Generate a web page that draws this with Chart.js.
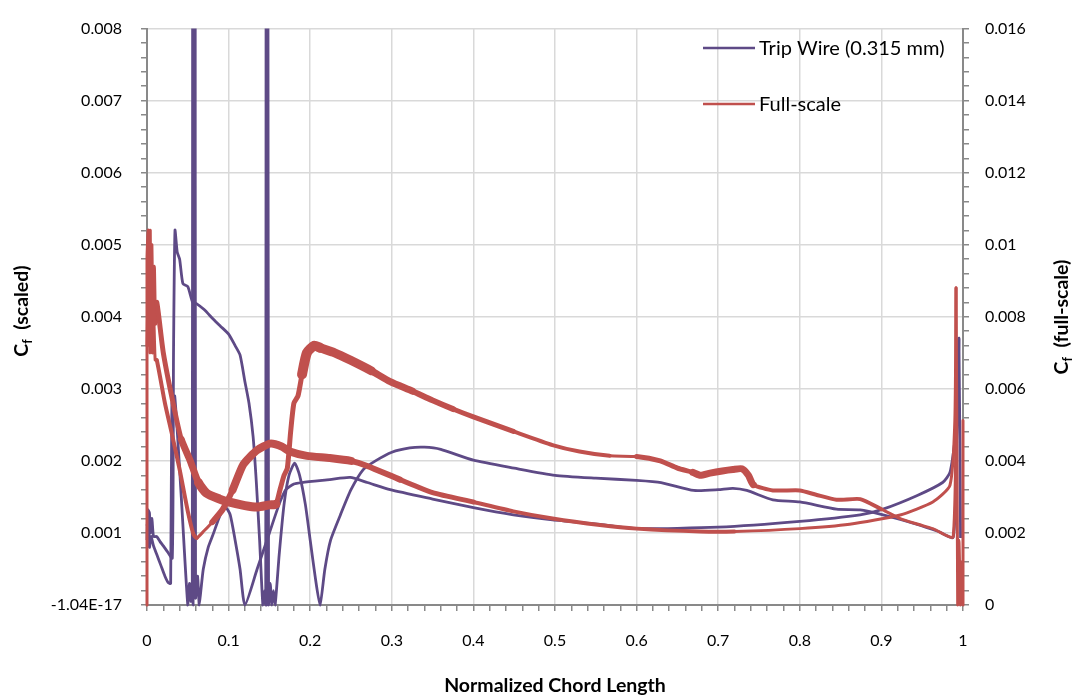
<!DOCTYPE html>
<html>
<head>
<meta charset="utf-8">
<script src="https://cdn.jsdelivr.net/npm/chart.js@4.4.1/dist/chart.umd.min.js"></script>
<style>
html,body{margin:0;padding:0;background:#fff;}
#wrap{position:relative;width:1075px;height:697px;}
</style>
</head>
<body>
<div id="wrap"><canvas id="c" width="1075" height="697"></canvas></div>
<script>
// ---------------- data ----------------
const seriesNames = ['Trip Wire (0.315 mm)', 'Full-scale'];
const xTitle = 'Normalized Chord Length';
const leftTitle = '(scaled)';
const rightTitle = '(full-scale)';
const xTickLabels = ['0','0.1','0.2','0.3','0.4','0.5','0.6','0.7','0.8','0.9','1'];
const leftTickLabels = ['-1.04E-17','0.001','0.002','0.003','0.004','0.005','0.006','0.007','0.008'];
const rightTickLabels = ['0','0.002','0.004','0.006','0.008','0.01','0.012','0.014','0.016'];

// Trip wire (scaled), left axis: [x, Cf]
const tripUpper = [[0,0.0009],[0.001,0.00132],[0.003,0.00128],[0.004,0.001],[0.006,0.0012],[0.008,0.00095],[0.012,0.00095],[0.016,0.00088],[0.02,0.00082],[0.025,0.00074],[0.031,0.00065],[0.0325,0.0035],[0.0343,0.0052],[0.037,0.0049],[0.04,0.0048],[0.044,0.00446],[0.05,0.00442],[0.056,0.0042],[0.061,0.00418],[0.07,0.0041],[0.081,0.00397],[0.09,0.00387],[0.1,0.00376],[0.108,0.0036],[0.114,0.00347],[0.12,0.0031],[0.125,0.0028],[0.13,0.00234],[0.134,0.0017],[0.138,0.0009],[0.142,0],[0.144,0.0002],[0.1455,0],[0.146,0.012],[0.1465,0],[0.148,0.012],[0.149,0],[0.151,0.0003],[0.153,0],[0.155,0.0002],[0.157,0],[0.162,0.0007],[0.168,0.0014],[0.174,0.0018],[0.181,0.00197],[0.187,0.0018],[0.194,0.0014],[0.2,0.0009],[0.206,0.0004],[0.212,0],[0.218,0.0005],[0.225,0.0009],[0.237,0.00125],[0.25,0.0016],[0.265,0.00188],[0.28,0.002],[0.3,0.00212],[0.322,0.00218],[0.34,0.00219],[0.36,0.00216],[0.4,0.00201],[0.45,0.0019],[0.5,0.0018],[0.55,0.00176],[0.6,0.00173],[0.63,0.0017],[0.67,0.00159],[0.7,0.0016],[0.718,0.00162],[0.735,0.00159],[0.767,0.00146],[0.8,0.00143],[0.845,0.00133],[0.874,0.00132],[0.902,0.00125],[0.944,0.00112],[0.97,0.00102],[0.988,0.00094],[0.992,0.0022],[0.995,0.0037],[0.997,0.00093]];
const tripLower = [[0,0.0011],[0.002,0.0012],[0.003,0.0008],[0.005,0.00095],[0.008,0.00082],[0.012,0.0007],[0.017,0.00055],[0.022,0.0004],[0.026,0.00031],[0.029,0.0003],[0.0305,0.0028],[0.034,0.0029],[0.042,0.0015],[0.05,0],[0.052,0.0003],[0.054,0.00005],[0.0555,0.0002],[0.056,0.012],[0.0565,0],[0.059,0.012],[0.0595,0.0001],[0.062,0.0004],[0.064,0],[0.066,0.0002],[0.069,0.0005],[0.075,0.0008],[0.081,0.00098],[0.088,0.0012],[0.093,0.00133],[0.097,0.00135],[0.102,0.00125],[0.108,0.0009],[0.114,0.0005],[0.12,0],[0.135,0.0005],[0.15,0.001],[0.162,0.0014],[0.17,0.0016],[0.18,0.00168],[0.19,0.0017],[0.224,0.00174],[0.249,0.00177],[0.27,0.0017],[0.298,0.0016],[0.35,0.00147],[0.4,0.00135],[0.449,0.00125],[0.497,0.00118],[0.555,0.00112],[0.6,0.00106],[0.7,0.00108],[0.8,0.00116],[0.874,0.00125],[0.902,0.00133],[0.944,0.00152],[0.975,0.0017],[0.984,0.00184],[0.99,0.00229],[0.994,0.00324],[0.995,0.0037]];

// Full-scale, right axis: [x, Cf]
const fullUpper = [[0,0],[0,0.0096],[0.0015,0.0104],[0.003,0.0076],[0.004,0.0104],[0.005,0.0074],[0.006,0.010],[0.0075,0.0078],[0.009,0.0094],[0.0105,0.0078],[0.012,0.0084],[0.02,0.007],[0.032,0.0056],[0.042,0.0046],[0.053,0.004],[0.063,0.0034],[0.073,0.0031],[0.089,0.00294],[0.1,0.00286],[0.12,0.00276],[0.135,0.00272],[0.15,0.00278],[0.158,0.0028],[0.163,0.0032],[0.168,0.0036],[0.172,0.0038],[0.176,0.0048],[0.18,0.0056],[0.185,0.0058],[0.19,0.0064],[0.196,0.007],[0.205,0.0072],[0.212,0.00714],[0.23,0.007],[0.249,0.0068],[0.275,0.0065],[0.298,0.0062],[0.325,0.00594],[0.35,0.00568],[0.375,0.00544],[0.4,0.00522],[0.449,0.00482],[0.497,0.00444],[0.53,0.00426],[0.567,0.00414],[0.6,0.00412],[0.629,0.004],[0.65,0.0038],[0.669,0.00368],[0.678,0.0036],[0.69,0.00366],[0.705,0.00372],[0.718,0.00376],[0.729,0.00378],[0.737,0.0036],[0.743,0.00334],[0.767,0.00318],[0.8,0.00318],[0.82,0.00306],[0.845,0.00292],[0.874,0.00294],[0.9,0.00266],[0.923,0.0024],[0.945,0.00224],[0.963,0.00212],[0.988,0.0019],[0.9915,0.0088],[0.9935,0],[0.995,0.0018],[0.997,0],[0.9985,0.0012],[1,0],[1,0.00512]];
const fullLower = [[0,0.0072],[0.002,0.0094],[0.0035,0.007],[0.005,0.009],[0.0065,0.007],[0.008,0.0082],[0.01,0.0068],[0.012,0.0068],[0.022,0.0056],[0.03,0.0048],[0.04,0.00376],[0.05,0.0026],[0.057,0.00196],[0.061,0.00186],[0.07,0.00206],[0.08,0.0023],[0.093,0.00266],[0.105,0.0032],[0.118,0.0039],[0.135,0.0043],[0.151,0.00448],[0.165,0.0044],[0.175,0.00426],[0.196,0.00414],[0.224,0.00408],[0.25,0.004],[0.27,0.00386],[0.31,0.00348],[0.35,0.00312],[0.4,0.00286],[0.449,0.0026],[0.497,0.0024],[0.555,0.00222],[0.6,0.00212],[0.678,0.00204],[0.72,0.00204],[0.8,0.00212],[0.861,0.00224],[0.923,0.0025],[0.963,0.00286],[0.984,0.00332],[0.99,0.00512],[0.9915,0.0088]];

// ---------------- style ----------------
const tripColor = '#5e4a86';
const fullColor = '#c0504d';
const gridMajor = '#d9d9d9';
const axisGray = '#898989';
const FONT = 'Lato, "Open Sans", sans-serif';
// line thickness ranges imitating the oscillation band [xFrom, xTo, width]
const fullUpperBands = [[0.012,0.04,5],[0.04,0.06,7],[0.06,0.16,9],[0.16,0.19,5],[0.19,0.22,10],[0.22,0.27,9],[0.27,0.32,7],[0.32,0.38,6],[0.38,0.45,5],[0.45,0.55,4],[0.6,0.66,5],[0.66,0.745,7],[0.745,0.9,4]];
const fullLowerBands = [[0.012,0.06,4],[0.08,0.11,6],[0.11,0.26,8],[0.26,0.32,6],[0.32,0.4,5],[0.4,0.75,4]];

function bandWidth(bands, x, def) {
  for (const b of bands) if (x >= b[0] && x < b[1]) return b[2];
  return def;
}
function pts(arr) { return arr.map(p => ({x: p[0], y: p[1]})); }
function isMajor(v, step) { const r = v / step; return Math.abs(r - Math.round(r)) < 1e-6; }

function lineDs(label, arr, color, axis, bands, def) {
  return {
    label: label, data: pts(arr), yAxisID: axis, showLine: true,
    borderColor: color, backgroundColor: color, borderWidth: def,
    pointRadius: 0, pointHoverRadius: 0, tension: 0.2, fill: false,
    borderJoinStyle: 'round', borderCapStyle: bands ? 'round' : 'butt',
    clip: {left: 3, right: 3, top: 0, bottom: 3},
    segment: bands ? { borderWidth: c => bandWidth(bands, (c.p0.parsed.x + c.p1.parsed.x) / 2, def) } : undefined
  };
}

const overlay = {
  id: 'overlay',
  afterDraw(chart) {
    const ctx = chart.ctx;
    ctx.save();
    // legend
    const legendItems = [[seriesNames[0], tripColor, 48], [seriesNames[1], fullColor, 104]];
    ctx.font = '20px ' + FONT;
    ctx.textBaseline = 'middle';
    ctx.textAlign = 'left';
    for (const it of legendItems) {
      ctx.strokeStyle = it[1]; ctx.lineWidth = 2.5; ctx.lineCap = 'butt';
      ctx.beginPath(); ctx.moveTo(703, it[2]); ctx.lineTo(755, it[2]); ctx.stroke();
      ctx.fillStyle = '#000';
      ctx.fillText(it[0], 759, it[2] + 1);
    }
    // x title
    ctx.font = 'bold 19.5px ' + FONT;
    ctx.textAlign = 'center';
    ctx.textBaseline = 'alphabetic';
    ctx.fillText(xTitle, 555, 692);
    drawCf(ctx, 21, 311, leftTitle);
    drawCf(ctx, 1061, 317, rightTitle);
    ctx.restore();
  }
};
function drawCf(ctx, cx, cy, rest) {
  ctx.save();
  ctx.translate(cx, cy);
  ctx.rotate(-Math.PI / 2);
  ctx.fillStyle = '#000';
  ctx.textAlign = 'left';
  ctx.textBaseline = 'alphabetic';
  const big = 'bold 19.5px ' + FONT, small = 'bold 12.5px ' + FONT;
  ctx.font = big; const wC = ctx.measureText('C').width; const wR = ctx.measureText('  ' + rest).width;
  ctx.font = small; const wf = ctx.measureText('f').width;
  const total = wC + wf + wR;
  let x0 = -total / 2;
  ctx.font = big; ctx.fillText('C', x0, 7);
  ctx.font = small; ctx.fillText('f', x0 + wC, 11);
  ctx.font = big; ctx.fillText('  ' + rest, x0 + wC + wf, 7);
  ctx.restore();
}

const tickFont = {family: FONT, size: 16};

new Chart(document.getElementById('c'), {
  type: 'scatter',
  data: {
    datasets: [
      lineDs(seriesNames[1], fullUpper, fullColor, 'y2', fullUpperBands, 3),
      lineDs(seriesNames[1], fullLower, fullColor, 'y2', fullLowerBands, 3),
      lineDs(seriesNames[0], tripUpper, tripColor, 'y', null, 2.8),
      lineDs(seriesNames[0], tripLower, tripColor, 'y', null, 2.8)
    ]
  },
  options: {
    responsive: false, animation: false, devicePixelRatio: 1,
    layout: {padding: {top: 17, left: 0, right: 0, bottom: 0}},
    plugins: {legend: {display: false}, tooltip: {enabled: false}},
    events: [],
    scales: {
      x: {
        type: 'linear', position: 'bottom', min: 0, max: 1,
        afterFit: s => { s.height = 92; },
        ticks: {stepSize: 0.02, autoSkip: false, maxRotation: 0, minRotation: 0, padding: 20, font: tickFont, color: '#000',
          callback: v => isMajor(v, 0.1) ? xTickLabels[Math.round(v * 10)] : ''},
        grid: {color: c => (c.tick && isMajor(c.tick.value, 0.1) && c.tick.value > 0.001 && c.tick.value < 0.999) ? gridMajor : 'rgba(0,0,0,0)',
          lineWidth: 1.5, tickColor: axisGray, tickLength: 6, tickWidth: 1.5},
        border: {color: axisGray, width: 2}
      },
      y: {
        type: 'linear', position: 'left', min: 0, max: 0.008,
        afterFit: s => { s.width = 147; },
        ticks: {stepSize: 0.0002, autoSkip: false, padding: 19, font: tickFont, color: '#000',
          callback: v => isMajor(v, 0.001) ? leftTickLabels[Math.round(v * 1000)] : ''},
        grid: {color: c => (c.tick && isMajor(c.tick.value, 0.001) && c.tick.value > 0.0001) ? gridMajor : 'rgba(0,0,0,0)',
          lineWidth: 1.5, tickColor: axisGray, tickLength: 6, tickWidth: 1.5},
        border: {color: axisGray, width: 2}
      },
      y2: {
        type: 'linear', position: 'right', min: 0, max: 0.016,
        afterFit: s => { s.width = 112; },
        ticks: {stepSize: 0.0004, autoSkip: false, padding: 16, font: tickFont, color: '#000',
          callback: v => isMajor(v, 0.002) ? rightTickLabels[Math.round(v * 500)] : ''},
        grid: {drawOnChartArea: false, color: axisGray, lineWidth: 1.5, tickColor: axisGray, tickLength: 6, tickWidth: 1.5},
        border: {color: axisGray, width: 2}
      }
    }
  },
  plugins: [overlay]
});
</script>
</body>
</html>
